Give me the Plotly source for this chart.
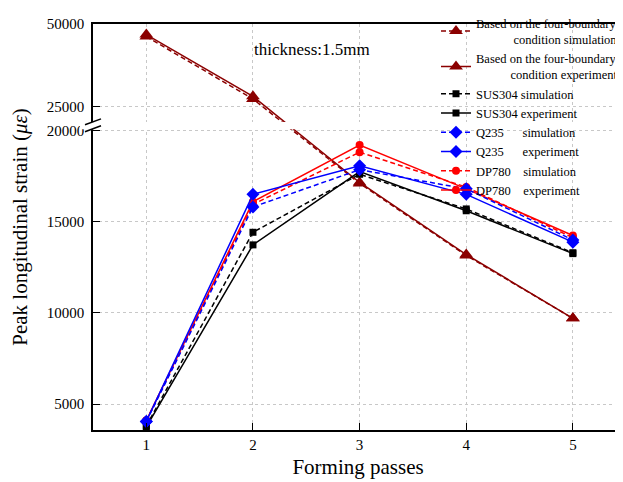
import plotly.graph_objects as go

# ---------------- data ----------------
passes = [1, 2, 3, 4, 5]

fb_sim = [46200, 27400, 17100, 13150, 9700]
fb_exp = [46800, 28200, 17150, 13200, 9700]
sus_sim = [3800, 14420, 17600, 15700, 13300]
sus_exp = [3750, 13730, 17750, 15600, 13250]
q235_sim = [4050, 15810, 17850, 16800, 14000]
q235_exp = [4050, 16500, 18070, 16500, 13880]
dp_sim = [4100, 15950, 18810, 16900, 14120]
dp_exp = [4100, 16100, 19200, 16800, 14240]

y_ticks = [5000, 10000, 15000, 20000, 25000, 50000]
y_ticktext = ["5000", "10000", "15000", "20000", "25000", "50000"]
x_ticks = [1, 2, 3, 4, 5]

# ---------------- broken y-axis scale ----------------
LOW_MAX = 20000     # top of lower segment
UP_MIN = 20500      # bottom of upper segment
GAP = 470           # gap between segments (lower-scale units)
RATIO = 0.182       # upper segment compression


def brk(v):
    if v <= LOW_MAX:
        return v
    return LOW_MAX + GAP + (v - UP_MIN) * RATIO


def brk_list(vals):
    return [brk(v) for v in vals]


Y_MIN = 3580
Y_MAX = brk(50000)

FONT = "Liberation Serif"
DARKRED = "#8B0000"

fig = go.Figure()


def add(name, y, color, symbol, size, dashed, rank):
    fig.add_trace(go.Scatter(
        x=passes, y=brk_list(y), name=name, mode="lines+markers",
        line=dict(color=color, width=1.5, dash="5px,3px" if dashed else "solid"),
        marker=dict(symbol=symbol, size=size, color=color),
        legendrank=rank,
    ))


NB = "\u00a0"
add("Based on the four-boundary<br>" + NB * 12 + "condition simulation", fb_sim, DARKRED, "triangle-up", 12, True, 1)
add("Based on the four-boundary<br>" + NB * 11 + "condition experiment", fb_exp, DARKRED, "triangle-up", 12, False, 2)
add("SUS304 simulation", sus_sim, "black", "square", 7, True, 3)
add("SUS304 experiment", sus_exp, "black", "square", 7, False, 4)
add("DP780" + NB * 4 + "simulation", dp_sim, "#FF0000", "circle", 8, True, 7)
add("DP780" + NB * 4 + "experiment", dp_exp, "#FF0000", "circle", 8, False, 8)
add("Q235" + NB * 6 + "simulation", q235_sim, "#0000FF", "diamond", 10, True, 5)
add("Q235" + NB * 6 + "experiment", q235_exp, "#0000FF", "diamond", 10, False, 6)

# page has an 8px body margin: figure 615x474, plot area on screen x 93..623, y 19..430
OFF = 8
FIG_W, FIG_H = 623 - OFF, 482 - OFF
M_L, M_T, M_B = 93 - OFF, 19 - OFF, 52
H_PLOT = FIG_H - M_T - M_B
W_PLOT = FIG_W - M_L


def py(px):
    return (430 - px) / H_PLOT


def pxx(px):
    return (px - 93) / W_PLOT


shapes = [
    # white band hiding the break
    dict(type="rect", xref="paper", yref="paper", x0=pxx(80), x1=1.0,
         y0=py(125.5), y1=py(118.3), fillcolor="white", line=dict(width=0),
         layer="above"),
    # break marks
    dict(type="line", xref="paper", yref="paper", x0=pxx(85), x1=pxx(101),
         y0=py(121), y1=py(115), line=dict(color="black", width=1.5), layer="above"),
    dict(type="line", xref="paper", yref="paper", x0=pxx(85), x1=pxx(101),
         y0=py(128), y1=py(122), line=dict(color="black", width=1.5), layer="above"),
]

fig.update_layout(
    width=FIG_W, height=FIG_H,
    margin=dict(l=M_L, r=0, t=M_T, b=M_B),
    paper_bgcolor="white", plot_bgcolor="white",
    font=dict(family=FONT, color="black"),
    showlegend=True,
    legend=dict(
        x=1.0, xanchor="right", y=py(3), yanchor="top",
        bgcolor="rgba(0,0,0,0)", borderwidth=0,
        font=dict(family=FONT, size=12.5, color="black"),
        tracegroupgap=0, itemwidth=30,
    ),
    shapes=shapes,
    annotations=[dict(
        text="thickness:1.5mm", xref="paper", yref="paper",
        x=pxx(312), y=py(33), showarrow=False,
        font=dict(family=FONT, size=17, color="black"),
    )],
)

fig.update_xaxes(
    range=[0.5, 5.47], tickvals=x_ticks, ticktext=[str(v) for v in x_ticks],
    showline=True, linecolor="black", linewidth=1.5, mirror=True,
    ticks="inside", ticklen=7, tickwidth=1.2, tickcolor="black",
    showgrid=True, gridcolor="#c8c8c8", griddash="dot", gridwidth=1,
    zeroline=False,
    tickfont=dict(family=FONT, size=15, color="black"),
    title=dict(text="Forming passes", font=dict(family=FONT, size=21, color="black"), standoff=8),
)

fig.update_yaxes(
    range=[Y_MIN, Y_MAX], tickvals=brk_list(y_ticks), ticktext=y_ticktext,
    showline=True, linecolor="black", linewidth=1.5, mirror=False,
    ticks="inside", ticklen=7, tickwidth=1.2, tickcolor="black",
    showgrid=True, gridcolor="#c8c8c8", griddash="dot", gridwidth=1,
    zeroline=False, ticklabelstandoff=4,
    tickfont=dict(family=FONT, size=15, color="black"),
    title=dict(text="Peak longitudinal strain (<i>\u03bc\u03b5</i>)",
               font=dict(family=FONT, size=21, color="black"), standoff=13),
)

fig.write_html("out.html")
